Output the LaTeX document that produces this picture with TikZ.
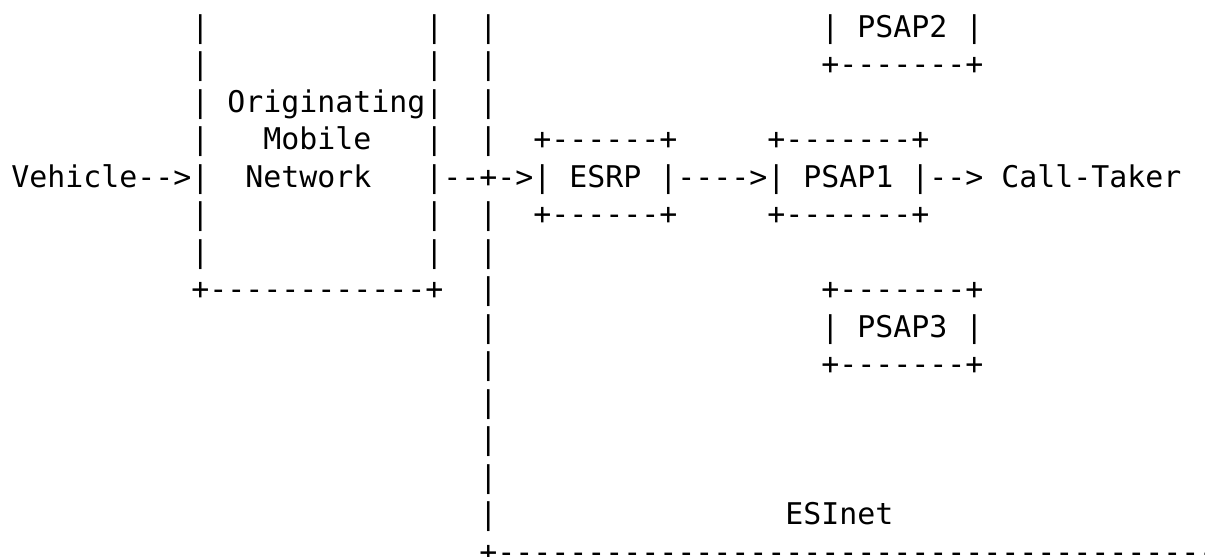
\documentclass[tikz,border=0pt]{standalone}
\usepackage{fontspec}
\setmonofont{DejaVu Sans Mono}
\newcommand{\asciifont}{\ttfamily\fontsize{14.95}{18}\selectfont}

\begin{document}
\begin{tikzpicture}[x=9pt, y=-18.75pt,
    asc/.style={anchor=base west, inner sep=0pt, font=\asciifont}]
    \useasboundingbox (-0.611,-0.987) rectangle (66.33,13.84);
    \clip (-0.611,-0.987) rectangle (66.33,13.84);

    % originating mobile network
    \foreach \r in {0,1,2,3,5,6} {
        \node[asc] (lbar\r) at (10,\r) {|};
        \node[asc] (mbar\r) at (23,\r) {|};
    }
    \node[asc] (orig) at (12,2) {Originating};
    \node[asc] (mobile) at (14,3) {Mobile};
    \node[asc] (network) at (13,4) {Network};
    \node[asc] (onbottom) at (10,7) {+------------+};

    % esinet border
    \foreach \r in {0,1,2,3,5,6,7,8,9,10,11,12,13} \node[asc] (ebar\r) at (26,\r) {|};
    \node[asc] (esinet) at (43,13) {ESInet};
    \node[asc] (ebottom) at (26,14) {+----------------------------------------};

    % call path
    \node[asc] (vehicle) at (0,4) {Vehicle-->|};
    \node[asc] (path) at (23,4) {|--+->| ESRP |---->| PSAP1 |--> Call-Taker};
    \node[asc] (esrptop) at (29,3) {+------+};
    \node[asc] (esrpbot) at (29,5) {+------+};
    \node[asc] (psaponetop) at (42,3) {+-------+};
    \node[asc] (psaponebot) at (42,5) {+-------+};

    % other psaps
    \node[asc] (psaptwo) at (45,0) {| PSAP2 |};
    \node[asc] (psaptwobot) at (45,1) {+-------+};
    \node[asc] (psapthreetop) at (45,7) {+-------+};
    \node[asc] (psapthree) at (45,8) {| PSAP3 |};
    \node[asc] (psapthreebot) at (45,9) {+-------+};
\end{tikzpicture}
\end{document}
